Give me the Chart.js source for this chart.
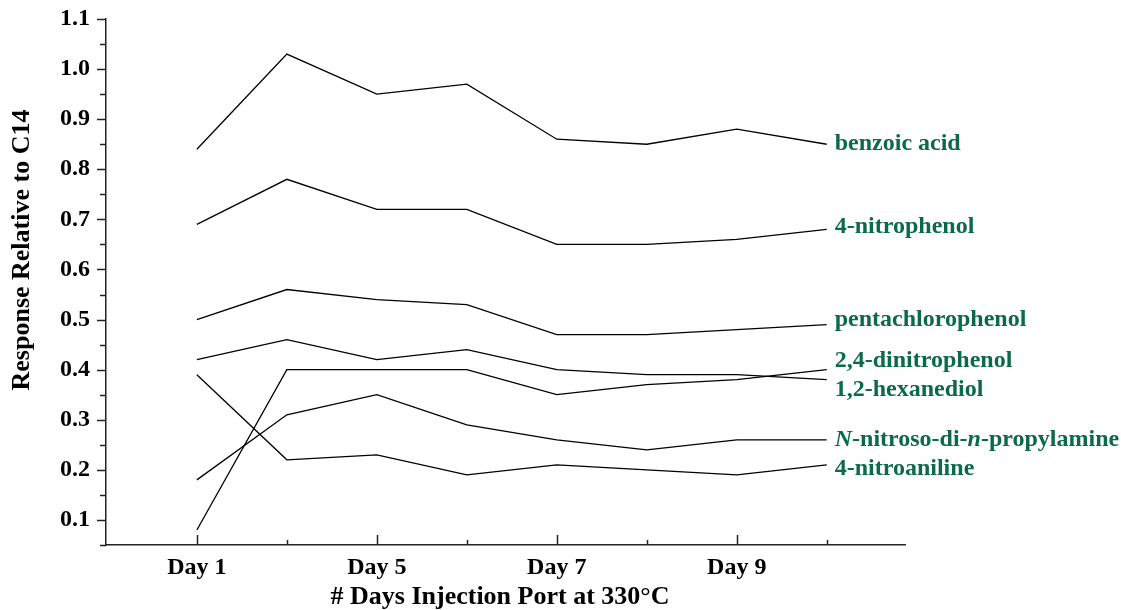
<!DOCTYPE html>
<html>
<head>
<meta charset="utf-8">
<script src="https://cdn.jsdelivr.net/npm/chart.js@4.4.1/dist/chart.umd.min.js"></script>
<style>
  html, body { margin: 0; padding: 0; background: #fff; }
  #wrap { width: 1121px; height: 610px; }
</style>
</head>
<body>
<div id="wrap"><canvas id="chart"></canvas></div>
<script>
// x 카테고리 (라벨은 짝수 칸만 표시)
const dayLabels = ['Day 1', '', 'Day 5', '', 'Day 7', '', 'Day 9', ''];

const compounds = [
  'benzoic acid',
  '4-nitrophenol',
  'pentachlorophenol',
  '2,4-dinitrophenol',
  '1,2-hexanediol',
  'N-nitroso-di-n-propylamine',
  '4-nitroaniline',
];

const benzoicAcid = [0.84, 1.03, 0.95, 0.97, 0.86, 0.85, 0.88, 0.85];
const nitrophenol = [0.69, 0.78, 0.72, 0.72, 0.65, 0.65, 0.66, 0.68];
const pentachlorophenol = [0.50, 0.56, 0.54, 0.53, 0.47, 0.47, 0.48, 0.49];
const dinitrophenol = [0.08, 0.40, 0.40, 0.40, 0.35, 0.37, 0.38, 0.40];
const hexanediol = [0.42, 0.46, 0.42, 0.44, 0.40, 0.39, 0.39, 0.38];
const nitrosoPropylamine = [0.18, 0.31, 0.35, 0.29, 0.26, 0.24, 0.26, 0.26];
const nitroaniline = [0.39, 0.22, 0.23, 0.19, 0.21, 0.20, 0.19, 0.21];

const seriesValues = [
  benzoicAcid,
  nitrophenol,
  pentachlorophenol,
  dinitrophenol,
  hexanediol,
  nitrosoPropylamine,
  nitroaniline,
];

// y 눈금: 0.05 간격, 라벨은 0.1 단위만
const yTickLabels = ['0.1', '0.2', '0.3', '0.4', '0.5', '0.6', '0.7', '0.8', '0.9', '1.0', '1.1'];

const xTitle = '# Days Injection Port at 330°C';
const yTitle = 'Response Relative to C14';

// 오른쪽 라벨 위치 보정 (px)
const labelDy = [0, -3, -5, -9, 10, 0, 4];
const labelRuns = {
  'N-nitroso-di-n-propylamine': [
    ['N', true],
    ['-nitroso-di-', false],
    ['n', true],
    ['-propylamine', false],
  ],
};

const serif = "'Liberation Serif', 'DejaVu Serif', serif";
const green = '#0b6a4a';
const axisColor = '#222';

// 안쪽/바깥쪽 눈금 직접 그리기
const tickMarks = {
  id: 'tickMarks',
  afterDraw(chart) {
    const ctx = chart.ctx;
    const x = chart.scales.x;
    const y = chart.scales.y;
    ctx.save();
    ctx.strokeStyle = axisColor;
    ctx.lineWidth = 1.5;
    ctx.beginPath();
    y.ticks.forEach((t) => {
      const py = Math.round(y.getPixelForValue(t.value)) + 0.5;
      const major = Math.abs(t.value * 10 - Math.round(t.value * 10)) < 1e-6;
      ctx.moveTo(y.right - (major ? 9 : 6), py);
      ctx.lineTo(y.right, py);
    });
    dayLabels.forEach((lbl, i) => {
      const px = Math.round(x.getPixelForValue(i)) + 0.5;
      ctx.moveTo(px, x.top);
      ctx.lineTo(px, x.top - (lbl ? 10 : 5));
    });
    ctx.stroke();
    ctx.restore();
  },
};

// 축 제목
const axisTitles = {
  id: 'axisTitles',
  afterDraw(chart) {
    const ctx = chart.ctx;
    ctx.save();
    ctx.fillStyle = '#000';
    ctx.font = 'bold 26px ' + serif;
    ctx.textAlign = 'center';
    ctx.textBaseline = 'middle';
    ctx.fillText(xTitle, 500, 597);
    ctx.translate(22, 250);
    ctx.rotate(-Math.PI / 2);
    ctx.fillText(yTitle, 0, 0);
    ctx.restore();
  },
};

// 선 끝 화합물 이름
const endLabels = {
  id: 'endLabels',
  afterDatasetsDraw(chart) {
    const ctx = chart.ctx;
    ctx.save();
    ctx.fillStyle = green;
    ctx.textBaseline = 'middle';
    chart.data.datasets.forEach((ds, i) => {
      const meta = chart.getDatasetMeta(i);
      const last = meta.data[meta.data.length - 1];
      let px = last.x + 8;
      const py = last.y + labelDy[i];
      const runs = labelRuns[ds.label] || [[ds.label, false]];
      runs.forEach(([txt, italic]) => {
        ctx.font = (italic ? 'italic ' : '') + 'bold 24px ' + serif;
        ctx.fillText(txt, px, py);
        px += ctx.measureText(txt).width;
      });
    });
    ctx.restore();
  },
};

new Chart(document.getElementById('chart'), {
  type: 'line',
  data: {
    datasets: seriesValues.map((vals, i) => ({
      label: compounds[i],
      data: vals.map((v, idx) => ({ x: idx, y: v })),
      borderColor: '#000',
      borderWidth: 1.3,
      pointRadius: 0,
      tension: 0,
      fill: false,
    })),
  },
  options: {
    responsive: true,
    maintainAspectRatio: false,
    animation: false,
    layout: { padding: { top: 19, right: 216, left: 0, bottom: 0 } },
    plugins: {
      legend: { display: false },
      tooltip: { enabled: false },
    },
    scales: {
      x: {
        type: 'linear',
        min: -1.01,
        max: 7.87,
        afterBuildTicks(scale) {
          scale.ticks = dayLabels.map((_, i) => ({ value: i }));
        },
        afterFit(scale) {
          scale.height = 65;
          scale.paddingLeft = 0;
          scale.paddingRight = 0;
        },
        grid: { display: false, drawTicks: false },
        border: { display: true, color: axisColor, width: 1.5 },
        ticks: {
          autoSkip: false,
          maxRotation: 0,
          padding: 8,
          color: '#000',
          font: { family: serif, size: 24, weight: 'bold' },
          callback: (v) => dayLabels[v] || '',
        },
      },
      y: {
        min: 0.05,
        max: 1.1,
        afterFit(scale) {
          scale.width = 106;
          scale.paddingTop = 0;
          scale.paddingBottom = 0;
        },
        grid: { display: false, drawTicks: false },
        border: { display: true, color: axisColor, width: 1.5 },
        ticks: {
          stepSize: 0.05,
          autoSkip: false,
          padding: 16,
          color: '#000',
          font: { family: serif, size: 24, weight: 'bold' },
          callback: (v) => yTickLabels.find((l) => Math.abs(+l - v) < 1e-6) || '',
        },
      },
    },
  },
  plugins: [tickMarks, endLabels, axisTitles],
});
</script>
</body>
</html>
